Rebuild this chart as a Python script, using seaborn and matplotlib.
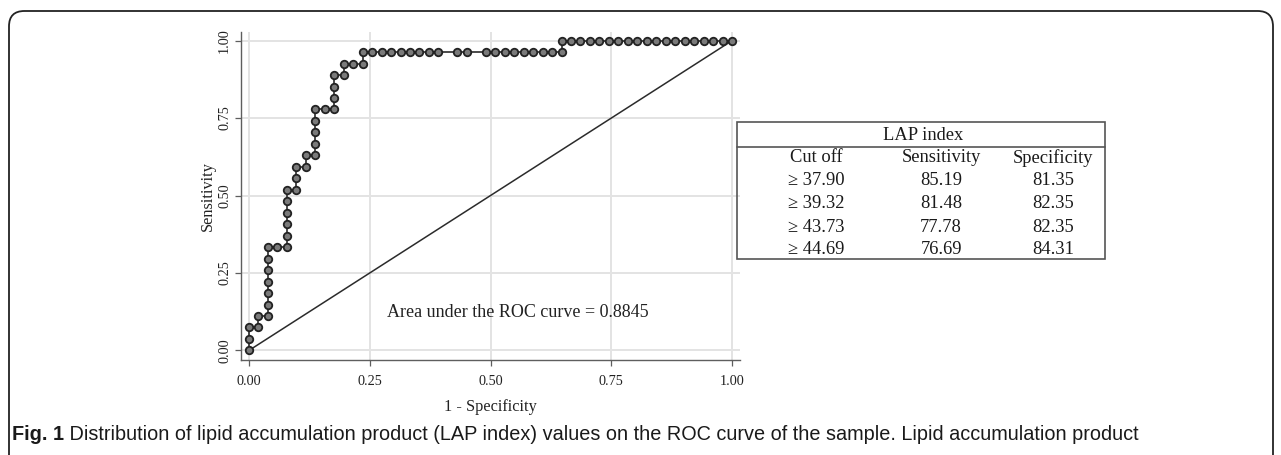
import matplotlib
matplotlib.use("Agg")
import matplotlib.pyplot as plt
import seaborn as sns
import pandas as pd
from matplotlib.patches import FancyBboxPatch, Rectangle
from matplotlib.lines import Line2D

# ---------------- data ----------------
one_minus_spec = [0.0000, 0.0000, 0.0000, 0.0196, 0.0196, 0.0392, 0.0392, 0.0392,
                  0.0392, 0.0392, 0.0392, 0.0392, 0.0588, 0.0784, 0.0784, 0.0784,
                  0.0784, 0.0784, 0.0784, 0.0980, 0.0980, 0.0980, 0.1176, 0.1176,
                  0.1373, 0.1373, 0.1373, 0.1373, 0.1373, 0.1569, 0.1765, 0.1765,
                  0.1765, 0.1765, 0.1961, 0.1961, 0.2157, 0.2353, 0.2353, 0.2549,
                  0.2745, 0.2941, 0.3137, 0.3333, 0.3529, 0.3725, 0.3922, 0.4314,
                  0.4510, 0.4902, 0.5098, 0.5294, 0.5490, 0.5686, 0.5882, 0.6078,
                  0.6275, 0.6471, 0.6471, 0.6667, 0.6863, 0.7059, 0.7255, 0.7451,
                  0.7647, 0.7843, 0.8039, 0.8235, 0.8431, 0.8627, 0.8824, 0.9020,
                  0.9216, 0.9412, 0.9608, 0.9804, 1.0000]
sensitivity = [0.0000, 0.0370, 0.0741, 0.0741, 0.1111, 0.1111, 0.1481, 0.1852,
               0.2222, 0.2593, 0.2963, 0.3333, 0.3333, 0.3333, 0.3704, 0.4074,
               0.4444, 0.4815, 0.5185, 0.5185, 0.5556, 0.5926, 0.5926, 0.6296,
               0.6296, 0.6667, 0.7037, 0.7407, 0.7778, 0.7778, 0.7778, 0.8148,
               0.8519, 0.8889, 0.8889, 0.9259, 0.9259, 0.9259, 0.9630, 0.9630,
               0.9630, 0.9630, 0.9630, 0.9630, 0.9630, 0.9630, 0.9630, 0.9630,
               0.9630, 0.9630, 0.9630, 0.9630, 0.9630, 0.9630, 0.9630, 0.9630,
               0.9630, 0.9630, 1.0000, 1.0000, 1.0000, 1.0000, 1.0000, 1.0000,
               1.0000, 1.0000, 1.0000, 1.0000, 1.0000, 1.0000, 1.0000, 1.0000,
               1.0000, 1.0000, 1.0000, 1.0000, 1.0000]
ref_x = [0.0, 1.0]
ref_y = [0.0, 1.0]
tick_values = [0.00, 0.25, 0.50, 0.75, 1.00]
tick_labels = ["0.00", "0.25", "0.50", "0.75", "1.00"]
auc_text = "Area under the ROC curve = 0.8845"

table_title = "LAP index"
table_columns = ["Cut off", "Sensitivity", "Specificity"]
cutoffs = ["\u2265 37.90", "\u2265 39.32", "\u2265 43.73", "\u2265 44.69"]
table_sens = ["85.19", "81.48", "77.78", "76.69"]
table_spec = ["81.35", "82.35", "82.35", "84.31"]

caption_bold = "Fig. 1"
caption_text = (" Distribution of lipid accumulation product (LAP index) values on the ROC "
                "curve of the sample. Lipid accumulation product")

# ---------------- figure ----------------
sns.set_theme(style="white")
plt.rcParams['font.family'] = ['Liberation Serif', 'DejaVu Serif']

W, H = 1281, 455
fig = plt.figure(figsize=(W / 100, H / 100), dpi=100)
fig.patch.set_facecolor("white")

def fx(px):
    return px / W

def fy(py):
    return 1 - py / H

# outer rounded frame
frame = FancyBboxPatch((fx(9), fy(480)), fx(1273) - fx(9), fy(11) - fy(480),
                       boxstyle="round,pad=0,rounding_size=0.012",
                       transform=fig.transFigure, fill=False,
                       edgecolor="#222222", linewidth=1.3, clip_on=False,
                       mutation_aspect=W / H)
fig.patches.append(frame)

# ROC axes
ax_l, ax_r, ax_t, ax_b = 241, 740, 32, 360
ax = fig.add_axes([fx(ax_l), fy(ax_b), fx(ax_r) - fx(ax_l), fy(ax_t) - fy(ax_b)])
ax.set_facecolor("white")

df = pd.DataFrame({"fpr": one_minus_spec, "tpr": sensitivity})
dref = pd.DataFrame({"x": ref_x, "y": ref_y})

sns.lineplot(data=dref, x="x", y="y", ax=ax, color="#2b2b2b", linewidth=1.1,
             estimator=None, sort=False, zorder=3)
sns.lineplot(data=df, x="fpr", y="tpr", ax=ax, color="#2b2b2b", linewidth=1.2,
             estimator=None, sort=False, marker="o", markersize=5.4,
             markerfacecolor="#7a7a7a", markeredgecolor="#222222",
             markeredgewidth=1.3, zorder=4)

ax.set_xlim(-0.0166, 1.0166)
ax.set_ylim(-0.031, 1.028)
ax.set_xticks(tick_values)
ax.set_xticklabels(tick_labels)
ax.set_yticks(tick_values)
ax.set_yticklabels(tick_labels, rotation=90, va="center")
ax.grid(True, color="#e3e3e3", linewidth=1.4)
ax.set_axisbelow(True)
for s in ["top", "right"]:
    ax.spines[s].set_visible(False)
for s in ["left", "bottom"]:
    ax.spines[s].set_color("#5e5e5e")
    ax.spines[s].set_linewidth(1.0)
ax.tick_params(axis="both", which="major", length=4, width=0.9, color="#5e5e5e",
               direction="out", labelsize=10.3, labelcolor="#222222",
               bottom=True, left=True)
ax.tick_params(axis="x", pad=7)
ax.tick_params(axis="y", pad=3)
ax.set_xlabel("1 - Specificity", fontsize=11.7, color="#222222", labelpad=8)
ax.set_ylabel("Sensitivity", fontsize=11.7, color="#222222", labelpad=2)
ax.text(0.2857, 0.1216, auc_text, fontsize=13, color="#222222",
        ha="left", va="center")

# table
tl, tr, tt, tb = 737, 1105, 122, 259
fig.patches.append(Rectangle((fx(tl), fy(tb)), fx(tr) - fx(tl), fy(tt) - fy(tb),
                             transform=fig.transFigure, fill=False,
                             edgecolor="#555555", linewidth=1.2))
fig.lines.append(Line2D([fx(tl), fx(tr)], [fy(147), fy(147)],
                        transform=fig.transFigure, color="#555555", linewidth=1.2))
tfs = 13.3
fig.text(fx(923), fy(136), table_title, fontsize=tfs, ha="center", va="center",
         color="#1a1a1a")
col_x = [816, 941, 1053]
row_y = [158, 181, 204, 227, 249]
for cx, name in zip(col_x, table_columns):
    fig.text(fx(cx), fy(row_y[0]), name, fontsize=tfs, ha="center", va="center",
             color="#1a1a1a")
for i in range(len(cutoffs)):
    y = fy(row_y[i + 1])
    fig.text(fx(col_x[0]), y, cutoffs[i], fontsize=tfs, ha="center", va="center",
             color="#1a1a1a")
    fig.text(fx(col_x[1]), y, table_sens[i], fontsize=tfs, ha="center", va="center",
             color="#1a1a1a")
    fig.text(fx(col_x[2]), y, table_spec[i], fontsize=tfs, ha="center", va="center",
             color="#1a1a1a")

# caption, sized to span the same width as in the reference
cap_family = ['Liberation Sans', 'DejaVu Sans']
cap_left, cap_right, cap_y = 12, 1135, 435
base_fs = 12.6
t1 = fig.text(fx(cap_left), fy(cap_y), caption_bold, fontsize=base_fs, fontweight="bold",
              family=cap_family, ha="left", va="center", color="#1a1a1a")
t2 = fig.text(0, fy(cap_y), caption_text, fontsize=base_fs, family=cap_family,
              ha="left", va="center", color="#1a1a1a")
fig.canvas.draw()
r = fig.canvas.get_renderer()
total = t1.get_window_extent(r).width + t2.get_window_extent(r).width
fs = base_fs * (cap_right - cap_left) / total
t1.set_fontsize(fs)
t2.set_fontsize(fs)
fig.canvas.draw()
bb = t1.get_window_extent(r)
t2.set_x(bb.x1 / W)

fig.savefig("out.png", dpi=100)
